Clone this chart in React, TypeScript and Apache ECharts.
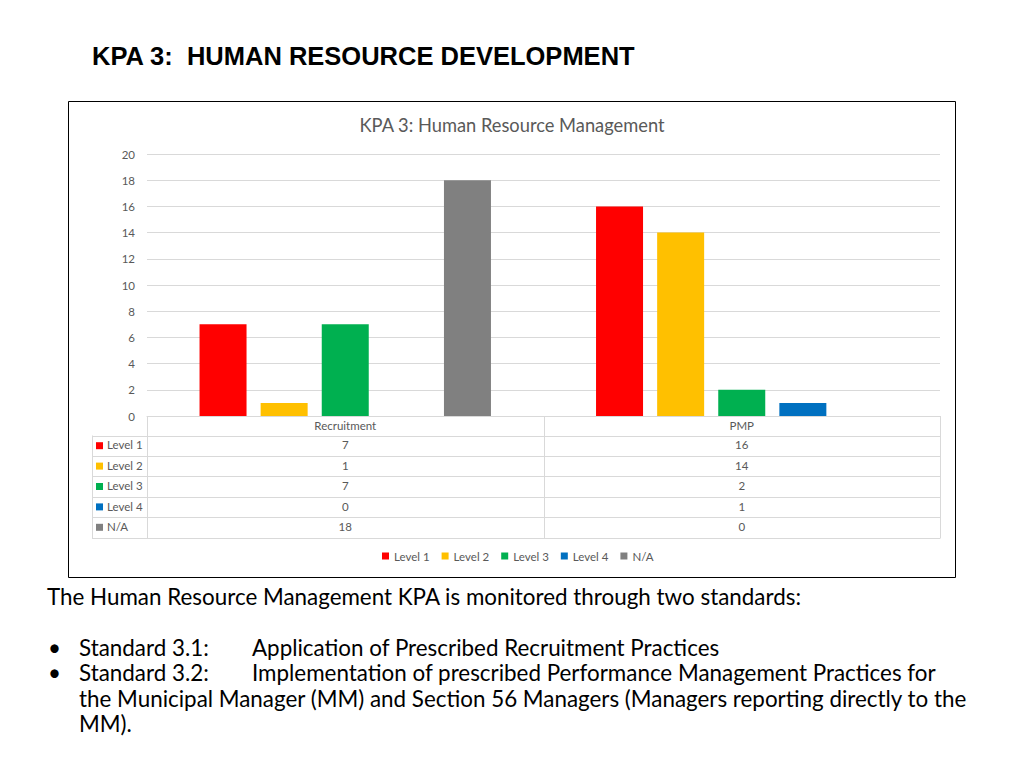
import React, { useEffect, useRef } from "react";
import * as echarts from "echarts";

const categories = ["Recruitment", "PMP"];
const seriesNames = ["Level 1", "Level 2", "Level 3", "Level 4", "N/A"];
const level1 = [7, 16];
const level2 = [1, 14];
const level3 = [7, 2];
const level4 = [0, 1];
const notApplicable = [18, 0];
const seriesValues = [level1, level2, level3, level4, notApplicable];
const colors = ["#FF0000", "#FFC000", "#00B050", "#0070C0", "#808080"];

const slideTitle = "KPA 3:  HUMAN RESOURCE DEVELOPMENT";
const chartTitle = "KPA 3: Human Resource Management";
const introText = "The Human Resource Management KPA is monitored through two standards:";
const standards = [
  ["Standard 3.1:", "Application of Prescribed Recruitment Practices"],
  ["Standard 3.2:", "Implementation of prescribed Performance Management Practices for"],
];
const continuationLines = [
  "the Municipal Manager (MM) and Section 56 Managers (Managers reporting directly to the",
  "MM).",
];

const GRID_L = 147;
const GRID_R = 940;
const GRID_T = 154;
const GRID_B = 416;
const TABLE_L = 92;
const HEADER_B = 435.5;
const ROW_H = 20.4;
const GRAY_TXT = "#595959";
const LINE_C = "#D9D9D9";
const CHART_FONT = "Lato";
const BODY_FONT = "Lato";
const SMALL = 11.5;

export default function App() {
  const ref = useRef<HTMLDivElement>(null);
  useEffect(() => {
    if (!ref.current) return;
    const chart = echarts.init(ref.current, undefined, { renderer: "svg" });
    const colW = (GRID_R - GRID_L) / categories.length;
    const tableBottom = HEADER_B + ROW_H * seriesNames.length;
    const graphics: any[] = [];

    // slide title
    graphics.push({
      type: "text",
      x: 92,
      y: 56,
      style: {
        text: slideTitle,
        font: "bold 25.5px 'Liberation Sans', Arial, sans-serif",
        fill: "#000",
        textVerticalAlign: "middle",
      },
    });
    // chart box
    graphics.push({
      type: "rect",
      shape: { x: 68.5, y: 101.5, width: 887, height: 476 },
      style: { fill: "none", stroke: "#000", lineWidth: 1 },
    });
    // table lines
    const hLine = (x1: number, x2: number, y: number) => ({
      type: "line",
      shape: { x1, y1: y, x2, y2: y },
      style: { stroke: LINE_C, lineWidth: 1 },
      silent: true,
    });
    const vLine = (x: number, y1: number, y2: number) => ({
      type: "line",
      shape: { x1: x, y1, x2: x, y2 },
      style: { stroke: LINE_C, lineWidth: 1 },
      silent: true,
    });
    for (let i = 0; i <= seriesNames.length; i++) {
      const y = Math.round(HEADER_B + ROW_H * i) + 0.5;
      graphics.push(hLine(TABLE_L, GRID_R, y));
    }
    for (let c = 0; c <= categories.length; c++) {
      const x = Math.round(GRID_L + colW * c) + 0.5;
      graphics.push(vLine(x, GRID_B, Math.round(tableBottom) + 0.5));
    }
    graphics.push(vLine(TABLE_L + 0.5, HEADER_B, Math.round(tableBottom) + 0.5));
    // header texts
    categories.forEach((cat, c) => {
      graphics.push({
        type: "text",
        x: GRID_L + colW * (c + 0.5),
        y: (GRID_B + HEADER_B) / 2 - 0.5,
        style: {
          text: cat,
          font: `${SMALL}px ${CHART_FONT}`,
          fill: GRAY_TXT,
          textAlign: "center",
          textVerticalAlign: "middle",
        },
      });
    });
    // rows
    seriesNames.forEach((name, r) => {
      const yc = HEADER_B + ROW_H * (r + 0.5);
      graphics.push({
        type: "rect",
        shape: { x: 96, y: yc - 3.5, width: 7, height: 7 },
        style: { fill: colors[r] },
      });
      graphics.push({
        type: "text",
        x: 107,
        y: yc - 0.8,
        style: {
          text: name,
          font: `${SMALL}px ${CHART_FONT}`,
          fill: GRAY_TXT,
          textVerticalAlign: "middle",
        },
      });
      categories.forEach((_, c) => {
        graphics.push({
          type: "text",
          x: GRID_L + colW * (c + 0.5),
          y: yc - 0.8,
          style: {
            text: String(seriesValues[r][c]),
            font: `${SMALL}px ${CHART_FONT}`,
            fill: GRAY_TXT,
            textAlign: "center",
            textVerticalAlign: "middle",
          },
        });
      });
    });
    // body text
    const bodyFont = `22.4px ${BODY_FONT}`;
    graphics.push({
      type: "text",
      x: 47,
      y: 596,
      style: { text: introText, font: bodyFont, fill: "#000", textVerticalAlign: "middle" },
    });
    const lineYs = [647, 672.5];
    standards.forEach((s, i) => {
      graphics.push({
        type: "text",
        x: 48,
        y: lineYs[i],
        style: { text: "•", font: bodyFont, fill: "#000", textVerticalAlign: "middle" },
      });
      graphics.push({
        type: "text",
        x: 79,
        y: lineYs[i],
        style: { text: s[0], font: bodyFont, fill: "#000", textVerticalAlign: "middle" },
      });
      graphics.push({
        type: "text",
        x: 252,
        y: lineYs[i],
        style: { text: s[1], font: bodyFont, fill: "#000", textVerticalAlign: "middle" },
      });
    });
    continuationLines.forEach((t, i) => {
      graphics.push({
        type: "text",
        x: 79,
        y: 698 + 25.5 * i,
        style: { text: t, font: bodyFont, fill: "#000", textVerticalAlign: "middle" },
      });
    });

    chart.setOption({
      animation: false,
      backgroundColor: "#fff",
      title: {
        text: chartTitle,
        left: "center",
        top: 111,
        textStyle: { fontSize: 18.3, fontWeight: "normal", color: GRAY_TXT, fontFamily: CHART_FONT },
      },
      legend: {
        data: seriesNames,
        left: 377,
        top: 545,
        icon: "rect",
        itemWidth: 7,
        itemHeight: 7,
        itemGap: 12,
        textStyle: { fontSize: SMALL, color: GRAY_TXT, fontFamily: CHART_FONT },
      },
      grid: {
        left: GRID_L,
        top: GRID_T,
        width: GRID_R - GRID_L,
        height: GRID_B - GRID_T,
        containLabel: false,
      },
      xAxis: {
        type: "category",
        data: categories,
        axisLine: { show: true, lineStyle: { color: LINE_C } },
        axisTick: { show: false },
        axisLabel: { show: false },
      },
      yAxis: {
        type: "value",
        min: 0,
        max: 20,
        interval: 2,
        axisLine: { show: false },
        axisTick: { show: false },
        splitLine: { lineStyle: { color: LINE_C } },
        axisLabel: { fontSize: SMALL, color: GRAY_TXT, fontFamily: CHART_FONT, margin: 12 },
      },
      series: seriesNames.map((name, i) => ({
        name,
        type: "bar",
        data: seriesValues[i],
        itemStyle: { color: colors[i] },
        barGap: "30%",
        barCategoryGap: "26.5%",
      })),
      graphic: graphics,
    });
    return () => chart.dispose();
  }, []);
  return (
    <div
      ref={ref}
      style={{ position: "absolute", left: 0, top: 0, width: 1024, height: 768 }}
    />
  );
}
